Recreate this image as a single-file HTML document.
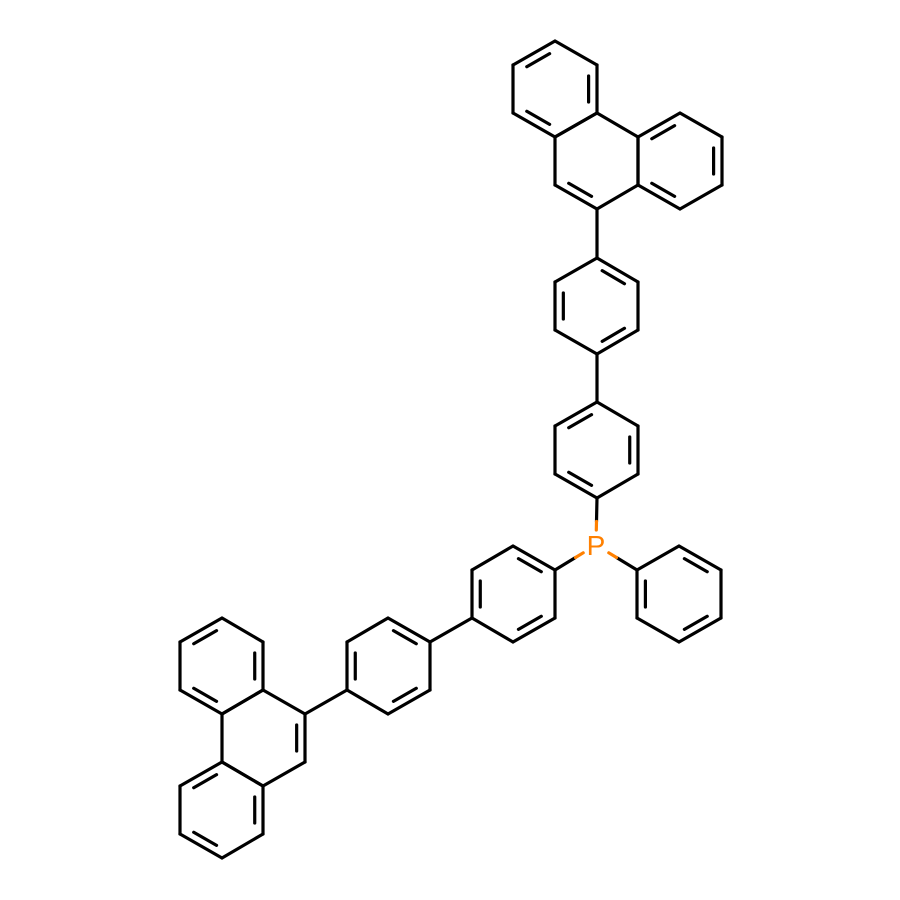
<!DOCTYPE html>
<html><head><meta charset="utf-8"><style>body{margin:0;background:#fff}svg{display:block}</style></head>
<body>
<svg id="mol" width="900" height="900" viewBox="0 0 900 900" xmlns="http://www.w3.org/2000/svg">
<rect width="900" height="900" fill="#fff"/>
<g id="bonds" stroke="#000" stroke-width="3.2" stroke-linecap="round" fill="none"></g>
<text x="596" y="555" font-family="Liberation Sans, sans-serif" font-size="28" fill="#ff8000" text-anchor="middle">P</text>
</svg>
<script>
const rings = [
 // [vertices..., doubleBondStartIndices]
 {n:'top-phen-ring-a', v:[[555,41],[597,65],[597,113],[555,137],[513,113],[513,65]], d:[1,3,5]},
 {n:'top-phen-ring-b', v:[[680,113],[722,137],[722,185],[680,209],[638,185],[638,137]], d:[1,3,5]},
 {n:'top-phen-ring-c', v:[[597,113],[638,137],[638,185],[597,209],[555,185],[555,137]], d:[3]},
 {n:'phenyl-1', v:[[597,258],[638,282],[638,330],[597,354],[555,330],[555,282]], d:[0,2,4]},
 {n:'phenyl-2', v:[[597,402],[638,426],[638,474],[597,498],[555,474],[555,426]], d:[1,3,5]},
 {n:'phenyl-right', v:[[679,546],[721,570],[721,618],[679,642],[637,618],[637,570]], d:[0,2,4]},
 {n:'phenyl-3', v:[[513,546],[555,570],[555,618],[513,642],[472,618],[472,570]], d:[0,2,4]},
 {n:'phenyl-4', v:[[388,618],[430,642],[430,690],[388,714],[347,690],[347,642]], d:[0,2,4]},
 {n:'bottom-phen-ring-c', v:[[263,690],[305,714],[305,762],[263,786],[222,762],[222,714]], d:[1]},
 {n:'bottom-phen-ring-a', v:[[222,618],[263,642],[263,690],[222,714],[180,690],[180,642]], d:[1,3,5]},
 {n:'bottom-phen-ring-b', v:[[222,762],[263,786],[263,834],[222,858],[180,834],[180,786]], d:[1,3,5]}
];
const links = [
 [[597,209],[597,258]],[[597,354],[597,402]],[[472,618],[430,642]],[[347,690],[305,714]]
];
const pLinks = [[[597,498],[596,545]],[[555,570],[596,545]],[[637,570],[596,545]]];
const g = document.getElementById('bonds');
function line(a,b,color,name){
  const l=document.createElementNS('http://www.w3.org/2000/svg','line');
  l.setAttribute('x1',a[0]);l.setAttribute('y1',a[1]);l.setAttribute('x2',b[0]);l.setAttribute('y2',b[1]);
  if(color)l.setAttribute('stroke',color);
  
  
  g.appendChild(l);
}
rings.forEach(r=>{
  const cx=r.v.reduce((s,p)=>s+p[0],0)/6, cy=r.v.reduce((s,p)=>s+p[1],0)/6;
  for(let i=0;i<6;i++){
    const a=r.v[i],b=r.v[(i+1)%6];
    line(a,b,null,r.n+'-bond');
    if(r.d.includes(i)){
      const f=0.2, s=0.16;
      const a2=[a[0]+(cx-a[0])*f,a[1]+(cy-a[1])*f], b2=[b[0]+(cx-b[0])*f,b[1]+(cy-b[1])*f];
      const p=[a2[0]+(b2[0]-a2[0])*s,a2[1]+(b2[1]-a2[1])*s], q=[b2[0]+(a2[0]-b2[0])*s,b2[1]+(a2[1]-b2[1])*s];
      line(p,q,null,r.n+'-double-bond');
    }
  }
});
links.forEach(l=>line(l[0],l[1],null,'ring-link-bond'));
pLinks.forEach(l=>{
  const a=l[0],P=l[1];
  const m=[(a[0]+P[0])/2,(a[1]+P[1])/2];
  const dx=P[0]-a[0],dy=P[1]-a[1],len=Math.hypot(dx,dy);
  const e=[P[0]-dx/len*15,P[1]-dy/len*15];
  line(a,m,null,'p-bond-carbon-half');
  line(m,e,'#ff8000','p-bond-phosphorus-half');
});
</script>
</body></html>
